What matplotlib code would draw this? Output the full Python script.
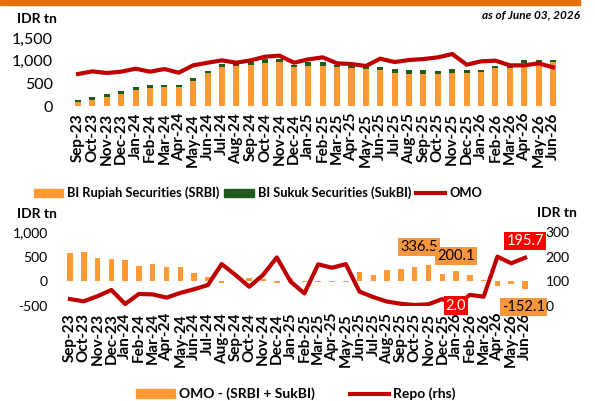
import matplotlib
matplotlib.use("Agg")
import matplotlib.pyplot as plt
import matplotlib.patches as mpatches
import matplotlib.lines as mlines
import numpy as np

plt.rcParams['font.family'] = ['Lato', 'DejaVu Sans']

# months Sep-23 .. Jun-26
months = ["Sep-23", "Oct-23", "Nov-23", "Dec-23",
          "Jan-24", "Feb-24", "Mar-24", "Apr-24", "May-24", "Jun-24",
          "Jul-24", "Aug-24", "Sep-24", "Oct-24", "Nov-24", "Dec-24",
          "Jan-25", "Feb-25", "Mar-25", "Apr-25", "May-25", "Jun-25",
          "Jul-25", "Aug-25", "Sep-25", "Oct-25", "Nov-25", "Dec-25",
          "Jan-26", "Feb-26", "Mar-26", "Apr-26", "May-26", "Jun-26"]

# top panel (IDR tn)
srbi = [81, 140, 206, 265, 353, 404, 412, 412, 559, 720,
        853, 880, 910, 956, 960, 860, 889, 889, 850, 830,
        820, 786, 735, 713, 698, 698, 720, 728, 750, 831,
        840, 948, 963, 970]
sukbi = [50, 55, 52, 55, 58, 55, 52, 52, 58, 60,
         70, 60, 60, 70, 70, 55, 72, 78, 60, 55,
         50, 72, 85, 80, 90, 82, 90, 65, 45, 50,
         40, 65, 52, 50]
omo = [706, 764, 728, 757, 823, 757, 816, 735, 897, 955,
       1007, 955, 1007, 1088, 1110, 955, 1029, 1073, 941, 926,
       882, 1044, 970, 1014, 1036, 1073, 1147, 911, 985, 1000,
       897, 897, 941, 853]

# bottom panel
gap = [571, 585, 483, 456, 428, 320, 360, 286, 292, 163,
       82, -30, 15, 60, 55, -35, 75, -20, -20, -20,
       -15, 184, 136, 224, 258, 299, 336.5, 150, 200.1, 122,
       20, -100, -60, -152.1]
repo = [28, 19, 40, 65, 8, 49, 47, 34, 53, 68,
        85, 170, 126, 78, 126, 197, 99, 51, 169, 155,
        170, 58, 36, 18, 9, 4, 7, 28, 2.0, 45,
        38, 200, 173, 195.7]

orange = "#FF9933"
green = "#1E5B1E"
red = "#C00000"
W, H = 595, 401

fig = plt.figure(figsize=(W / 100, H / 100), dpi=100)
x = np.arange(len(months))

# orange strip at top
fig.patches.append(mpatches.Rectangle((0, 1 - 5 / H), 580 / W, 5 / H,
                                      transform=fig.transFigure, color="#E8700A"))
fig.text(580 / W, 1 - 15 / H, "as of June 03, 2026", ha="right", va="center",
         fontsize=8.5, fontweight="bold", fontstyle="italic")

# ---- top chart
ax1 = fig.add_axes([70.8 / W, 1 - 106 / H, 489.4 / W, 68 / H])
ax1.bar(x, srbi, width=0.42, color=orange, zorder=2)
ax1.bar(x, sukbi, width=0.42, bottom=srbi, color=green, zorder=2)
ax1.plot(x, omo, color=red, lw=3, solid_joinstyle="round", zorder=3)
ax1.set_xlim(-0.5, len(months) - 0.5)
ax1.set_ylim(0, 1500)
ax1.set_yticks([0, 500, 1000, 1500])
ax1.set_yticklabels(["0", "500", "1,000", "1,500"])
ax1.set_xticks(x)
ax1.set_xticklabels(months, rotation=90, fontweight="bold", fontsize=11)
ax1.tick_params(length=0, pad=5)
ax1.tick_params(axis="y", labelsize=11.5, pad=13)
for s in ax1.spines.values():
    s.set_visible(False)
fig.text(17 / W, 1 - 19 / H, "IDR tn", fontsize=10, fontweight="bold", va="center")

h1 = [mpatches.Patch(color=orange), mpatches.Patch(color=green),
      mlines.Line2D([], [], color=red, lw=3)]
fig.legend(h1, ["BI Rupiah Securities (SRBI)", "BI Sukuk Securities (SukBI)", "OMO"],
           loc="center", bbox_to_anchor=(258 / W, 1 - 193 / H), ncol=3, frameon=False,
           prop={"weight": "bold", "size": 9.3}, handlelength=2.3, handleheight=0.6,
           handletextpad=0.3, columnspacing=0.35)

# ---- bottom chart
ax2 = fig.add_axes([63.1 / W, 1 - 306 / H, 468.8 / W, 74 / H])
ax2.bar(x, gap, width=0.4, color=orange, zorder=2)
ax2.set_xlim(-0.5, len(months) - 0.5)
ax2.set_ylim(-500, 1000)
ax2.set_yticks([-500, 0, 500, 1000])
ax2.set_yticklabels(["-500", "0", "500", "1,000"])
ax2.set_xticks(x)
ax2.set_xticklabels(months, rotation=90, fontweight="bold", fontsize=11)
ax2.tick_params(length=0, pad=5)
ax2.tick_params(axis="y", labelsize=10, pad=11)
for s in ax2.spines.values():
    s.set_visible(False)

ax3 = ax2.twinx()
ax3.plot(x, repo, color=red, lw=3, solid_joinstyle="round", zorder=3)
ax3.set_ylim(0, 300)
ax3.set_yticks([0, 100, 200, 300])
ax3.tick_params(length=0, labelsize=10, pad=10)
for s in ax3.spines.values():
    s.set_visible(False)

fig.text(17 / W, 1 - 214 / H, "IDR tn", fontsize=10, fontweight="bold", va="center")
fig.text(537 / W, 1 - 213 / H, "IDR tn", fontsize=10, fontweight="bold", va="center")

# data labels
lab = dict(fontsize=10.5, ha="center", va="center")
i_max = 26
ax2.annotate(f"{gap[i_max]:.1f}", (x[i_max], gap[i_max]), xytext=(-7, 13),
             textcoords="offset points", bbox=dict(fc="#F7963C", ec="none", pad=1.5), **lab)
ax2.annotate(f"{gap[28]:.1f}", (x[28], gap[28]), xytext=(0, 11),
             textcoords="offset points", bbox=dict(fc="#F7963C", ec="none", pad=1.5), **lab)
ax2.annotate(f"{gap[-1]:.1f}", (x[-1], gap[-1]), xytext=(-1, -13),
             textcoords="offset points", bbox=dict(fc="#F7963C", ec="none", pad=1.5), **lab)
ax3.annotate(f"{repo[28]:.1f}", (x[28], repo[28]), xytext=(0, 0),
             textcoords="offset points", color="white",
             bbox=dict(fc="#FF0000", ec="none", pad=1.5), zorder=5, **lab)
ax3.annotate(f"{repo[-1]:.1f}", (x[-1], repo[-1]), xytext=(0, 12),
             textcoords="offset points", color="white",
             bbox=dict(fc="#FF0000", ec="none", pad=1.5), zorder=5, **lab)

h2 = [mpatches.Patch(color=orange), mlines.Line2D([], [], color=red, lw=3)]
fig.legend(h2, ["OMO - (SRBI + SukBI)", "Repo (rhs)"],
           loc="center", bbox_to_anchor=(296 / W, 1 - 394 / H), ncol=2, frameon=False,
           prop={"weight": "bold", "size": 10}, handlelength=2.8, handleheight=0.6,
           handletextpad=0.3, columnspacing=2.5)

fig.savefig("out.png", dpi=100)
